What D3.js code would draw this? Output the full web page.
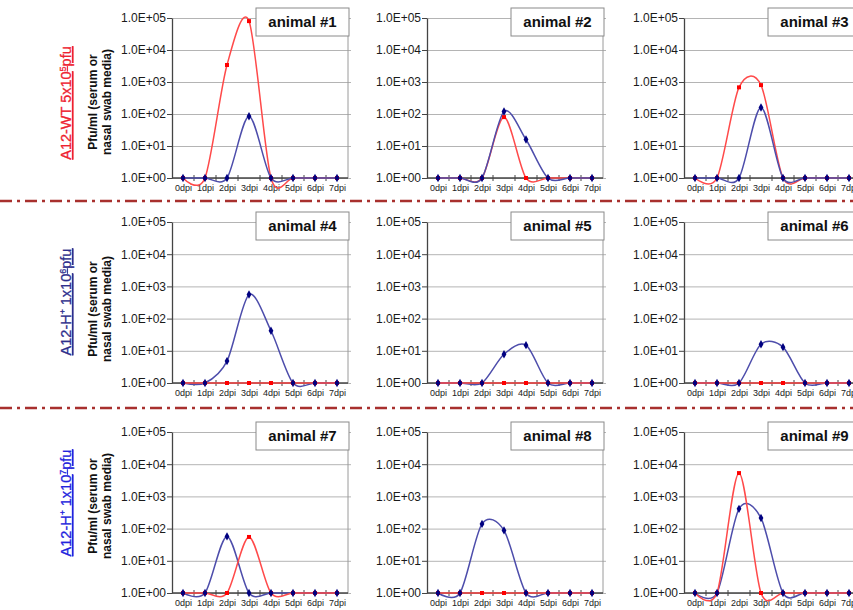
<!DOCTYPE html>
<html>
<head>
<meta charset="utf-8">
<script src="https://cdn.jsdelivr.net/npm/d3@7"></script>
<style>
  html, body { margin: 0; padding: 0; background: #ffffff; }
  svg { display: block; font-family: "Liberation Sans", Arial, sans-serif; }
</style>
</head>
<body>
<svg id="chart" width="853" height="610"></svg>
<script>
// ---------------- data ----------------
const days = ["0dpi", "1dpi", "2dpi", "3dpi", "4dpi", "5dpi", "6dpi", "7dpi"];
const yTickValues = [1, 10, 100, 1000, 10000, 100000];
const yTickLabels = ["1.0E+00", "1.0E+01", "1.0E+02", "1.0E+03", "1.0E+04", "1.0E+05"];
const animalNames = ["animal #1", "animal #2", "animal #3", "animal #4", "animal #5",
                     "animal #6", "animal #7", "animal #8", "animal #9"];
// red series (per animal)
const redSeries = [
  [1, 1, 3400, 80000, 1, 1, 1, 1],
  [1, 1, 1, 80, 1, 1, 1, 1],
  [1, 1, 680, 800, 1, 1, 1, 1],
  [1, 1, 1, 1, 1, 1, 1, 1],
  [1, 1, 1, 1, 1, 1, 1, 1],
  [1, 1, 1, 1, 1, 1, 1, 1],
  [1, 1, 1, 55, 1, 1, 1, 1],
  [1, 1, 1, 1, 1, 1, 1, 1],
  [1, 1, 5300, 1, 1, 1, 1, 1]
];
// blue series (per animal)
const blueSeries = [
  [1, 1, 1, 85, 1, 1, 1, 1],
  [1, 1, 1, 120, 16, 1, 1, 1],
  [1, 1, 1, 160, 1, 1, 1, 1],
  [1, 1, 4.8, 560, 42, 1, 1, 1],
  [1, 1, 1, 7.8, 15, 1, 1, 1],
  [1, 1, 1, 16, 13, 1, 1, 1],
  [1, 1, 57, 1, 1, 1, 1, 1],
  [1, 1, 140, 88, 1, 1, 1, 1],
  [1, 1, 410, 213, 1, 1, 1, 1]
];
const groupNames = ["A12-WT 5x10", "A12-H\u207A 1x10", "A12-H\u207A 1x10"];
const groupExponents = ["5", "6", "7"];
const groupUnit = "pfu";
const yTitleLines = ["Pfu/ml (serum or", "nasal swab media)"];

// ---------------- layout ----------------
const colLeft = [172, 427, 684];
const plotWidth = 176;
const rowTop = [18, 222, 432];
const rowBottom = [178, 383, 593];
const groupColors = ["#ee2230", "#2e2e8c", "#2323dd"];
const groupLabelY = [103, 302, 503];
const yTitleY = [102, 309, 506];
const dividerY = [201, 408];

const svg = d3.select("#chart");

// dividers
dividerY.forEach(yv => {
  svg.append("line")
    .attr("x1", 0).attr("x2", 853).attr("y1", yv).attr("y2", yv)
    .attr("stroke", "#a8302e").attr("stroke-width", 2.5)
    .attr("stroke-dasharray", "12,5,3,5");
});

// row labels
for (let r = 0; r < 3; r++) {
  const g = svg.append("g");
  const t = g.append("text")
    .attr("transform", `translate(71,${groupLabelY[r]}) rotate(-90)`)
    .attr("text-anchor", "middle")
    .attr("font-size", 14.5)
    .attr("fill", groupColors[r])
    .attr("stroke", groupColors[r]).attr("stroke-width", 0.3)
    .attr("text-decoration", "underline");
  t.append("tspan").text(groupNames[r]);
  t.append("tspan").attr("dy", -5).attr("font-size", 9).text(groupExponents[r]);
  t.append("tspan").attr("dy", 5).text(groupUnit);

  const tt = g.append("text")
    .attr("transform", `translate(97,${yTitleY[r]}) rotate(-90)`)
    .attr("text-anchor", "middle")
    .attr("font-size", 12)
    .attr("font-weight", "bold")
    .attr("fill", "#111");
  tt.append("tspan").attr("x", 0).attr("y", 0).text(yTitleLines[0]);
  tt.append("tspan").attr("x", 0).attr("y", 14).text(yTitleLines[1]);
}

const redLine = "#ff4a4a", blueLine = "#4d4dab";

for (let i = 0; i < 9; i++) {
  const r = Math.floor(i / 3), c = i % 3;
  const left = colLeft[c], right = colLeft[c] + plotWidth;
  const top = rowTop[r], bottom = rowBottom[r];

  const x = d3.scalePoint().domain(days).range([left, right]).padding(0.5);
  const y = d3.scaleLog().domain([1, 100000]).range([bottom, top]);
  const g = svg.append("g");

  // gridlines (extend a little beyond right border)
  g.append("g")
    .attr("transform", `translate(${right + 3},0)`)
    .call(d3.axisLeft(y).tickValues(yTickValues).tickSize(right + 3 - left).tickFormat(""))
    .call(a => a.select(".domain").remove())
    .call(a => a.selectAll("line").attr("stroke", "#b4b4b4").attr("stroke-width", 1));

  // right border
  g.append("line")
    .attr("x1", right).attr("x2", right).attr("y1", top).attr("y2", bottom)
    .attr("stroke", "#9a9a9a").attr("stroke-width", 1);

  // left axis
  g.append("g")
    .attr("transform", `translate(${left},0)`)
    .call(d3.axisLeft(y).tickValues(yTickValues)
      .tickFormat((d, k) => yTickLabels[k]).tickSize(5).tickSizeOuter(0).tickPadding(1))
    .call(a => a.select(".domain").attr("stroke", "#444").attr("stroke-width", 1.3))
    .call(a => a.selectAll("line").attr("stroke", "#444"))
    .call(a => a.selectAll("text").attr("font-size", 12).attr("fill", "#1a1a1a")
      .attr("font-family", "'Liberation Sans', Arial, sans-serif"));

  // bottom axis labels
  g.append("g")
    .attr("transform", `translate(0,${bottom})`)
    .call(d3.axisBottom(x).tickSize(0).tickPadding(7))
    .call(a => a.select(".domain").remove())
    .call(a => a.selectAll("text").attr("font-size", 9).attr("fill", "#222")
      .attr("font-family", "'Liberation Sans', Arial, sans-serif"));

  // bottom axis line and category boundary ticks
  g.append("line")
    .attr("x1", left).attr("x2", right).attr("y1", bottom).attr("y2", bottom)
    .attr("stroke", "#444").attr("stroke-width", 1.3);
  const step = x.step();
  days.forEach((d, k) => {
    if (k === 0) return;
    const bx = x(d) - step / 2;
    g.append("line")
      .attr("x1", bx).attr("x2", bx).attr("y1", bottom - 3).attr("y2", bottom + 3)
      .attr("stroke", "#444").attr("stroke-width", 1);
  });

  // animal box
  const bw = 93, bh = 28;
  g.append("rect")
    .attr("x", right + 1 - bw).attr("y", top - 10).attr("width", bw).attr("height", bh)
    .attr("fill", "#fff").attr("stroke", "#8a8a8a").attr("stroke-width", 1);
  g.append("text")
    .attr("x", right + 1 - bw / 2).attr("y", top + 9)
    .attr("text-anchor", "middle")
    .attr("font-size", 15).attr("font-weight", "bold").attr("fill", "#111")
    .text(animalNames[i]);

  // smoothed lines (Excel-like)
  const line = d3.line()
    .x((d, k) => x(days[k]))
    .y(d => y(d))
    .curve(d3.curveCardinal.tension(0.12));

  const redPath = () => g.append("path").datum(redSeries[i]).attr("d", line)
    .attr("fill", "none").attr("stroke", redLine).attr("stroke-width", 1.5);
  const bluePath = () => g.append("path").datum(blueSeries[i]).attr("d", line)
    .attr("fill", "none").attr("stroke", blueLine).attr("stroke-width", 1.5);
  if (r === 0) { redPath(); bluePath(); } else { bluePath(); redPath(); }

  // markers
  g.selectAll(".rm").data(redSeries[i]).join("path")
    .attr("transform", (d, k) => `translate(${x(days[k])},${y(d)})`)
    .attr("d", d3.symbol(d3.symbolSquare, 16)())
    .attr("fill", "#ff0000");
  g.selectAll(".bm").data(blueSeries[i]).join("path")
    .attr("transform", (d, k) => `translate(${x(days[k])},${y(d)})`)
    .attr("d", d3.symbol(d3.symbolDiamond, 20)())
    .attr("fill", "#000080");
}
</script>
</body>
</html>
